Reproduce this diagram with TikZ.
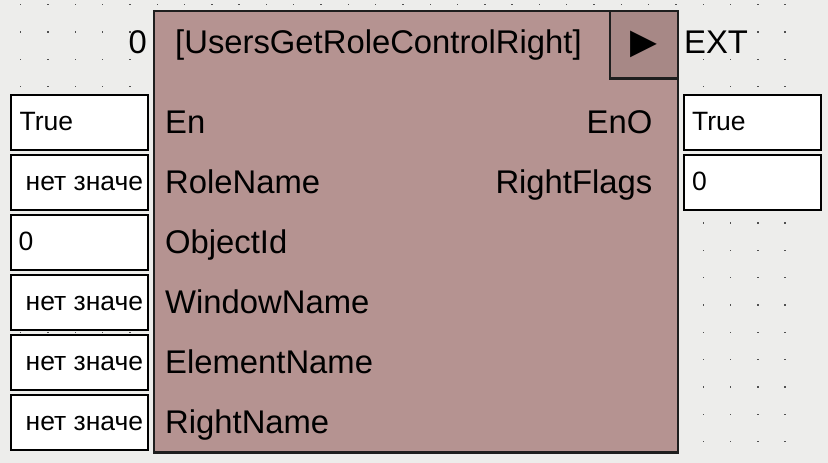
\documentclass[tikz,border=0pt]{standalone}
\usepackage{fontspec}
\setmainfont{Liberation Sans}
\newfontfamily\symfont{DejaVu Sans}
\usetikzlibrary{positioning}

\definecolor{sheet}{HTML}{EDEDEB}
\definecolor{gridc}{HTML}{505050}
\definecolor{fbody}{HTML}{B59391}
\definecolor{fplay}{HTML}{A78886}
\definecolor{edge}{HTML}{1E1E1E}

\newcommand\pinfont{\fontsize{32.8}{38}\selectfont}
\newcommand\valfont{\fontsize{26.5}{31}\selectfont}

\begin{document}
\begin{tikzpicture}[x=1pt, y=-1pt]

    % let's define some key values
    \def\gx{27.3}
    \def\rowh{60}
    \coordinate (corner) at (152.5,9.5);
    \coordinate (inleft) at (10,94);
    \coordinate (outleft) at (683,94);

    % Styles
    \tikzstyle{fblock}=[draw=edge, line width=2.5pt, fill=fbody, rectangle, inner sep=0pt]
    \tikzstyle{valbox}=[draw=black, line width=2.2pt, fill=white, rectangle, inner sep=0pt,
        minimum width=137pt, minimum height=55pt, anchor=north west]
    \tikzstyle{pin}=[inner sep=0pt, font=\pinfont]
    \tikzstyle{val}=[inner sep=0pt, font=\valfont, anchor=base west]

    % sheet and dot grid
    \useasboundingbox (0,0) rectangle (828,463);
    \fill[sheet] (0,0) rectangle (828,463);
    \foreach \i in {0,...,28}
        \foreach \j in {0,...,16}
            \fill[gridc] (20+\gx*\i,4+\gx*\j) rectangle +(1.4,1.4);

    % function block
    \node[fblock, anchor=north west, minimum width=524pt, minimum height=441.5pt] (fb) at (corner) {};
    \node[fblock, fill=fplay, anchor=north east, minimum width=68pt, minimum height=67.5pt] (run) at (fb.north east) {};
    \node[inner sep=0pt, font=\symfont\fontsize{35}{40}\selectfont] (runsym) at (run.center) {▶};

    % header
    \node[pin, anchor=base east] (order) at (147,53.5) {0};
    \node[pin, anchor=base west] (title) at (175,53.5) {[UsersGetRoleControlRight]};
    \node[pin, anchor=base west] (ext) at (684,53.5) {EXT};

    % inputs
    \foreach \k/\name/\v/\dx in {0/En/True/9.5, 1/RoleName/нет значе/15.5,
            2/ObjectId/0/8.5, 3/WindowName/нет значе/15.5,
            4/ElementName/нет значе/15.5, 5/RightName/нет значе/15.5} {
        \node[valbox] (in\k) at ([yshift=-\k*\rowh]inleft) {};
        \node[val] (inv\k) at ([xshift=\dx, yshift=-\k*\rowh-36.5]inleft) {\v};
        \node[pin, anchor=base west] (inp\k) at ([xshift=12.5, yshift=-\k*\rowh-123.5]corner) {\name};
    }

    % outputs
    \foreach \k/\name/\v in {0/EnO/True, 1/RightFlags/0} {
        \node[valbox] (out\k) at ([yshift=-\k*\rowh]outleft) {};
        \node[val] (outv\k) at ([xshift=9, yshift=-\k*\rowh-36.5]outleft) {\v};
        \node[pin, anchor=base east] (outp\k) at ([xshift=-26.5, yshift=-\k*\rowh-123.5]fb.north east) {\name};
    }

\end{tikzpicture}
\end{document}
